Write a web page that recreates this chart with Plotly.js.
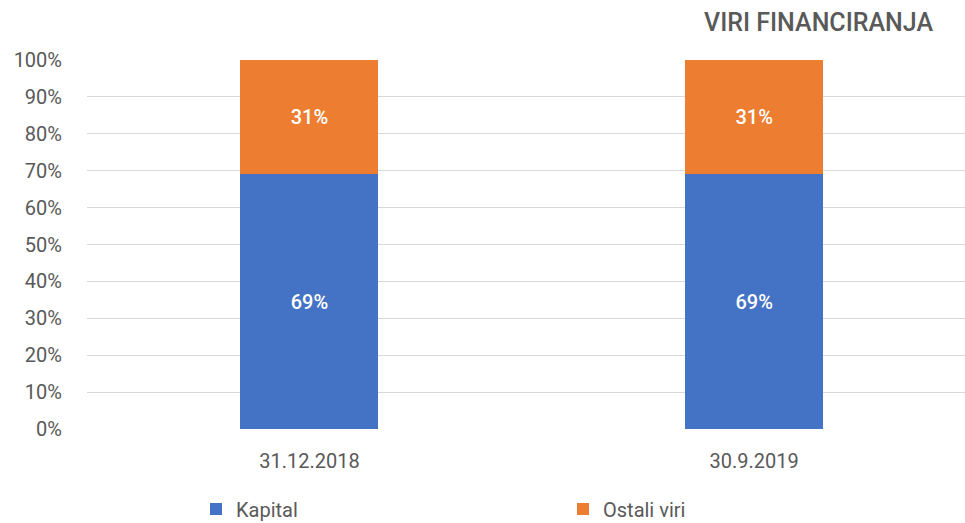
<!DOCTYPE html>
<html>
<head>
<meta charset="utf-8">
<script src="https://cdn.plot.ly/plotly-3.0.1.min.js"></script>
<style>html,body{margin:0;padding:0;background:#fff;}#chart{width:965px;height:523px;}</style>
</head>
<body>
<div id="chart"></div>
<script>
var categories = ["31.12.2018", "30.9.2019"];
var kapital = [69, 69];
var ostaliViri = [31, 31];
var seriesNames = ["Kapital", "Ostali viri"];
var yTickVals = [0, 10, 20, 30, 40, 50, 60, 70, 80, 90, 100];
var chartTitle = "VIRI FINANCIRANJA";

var fontFam = "Roboto, 'Liberation Sans', sans-serif";
var xpos = [0, 1];

var traces = [
  {
    type: "bar", name: seriesNames[0], x: xpos, y: kapital,
    marker: {color: "#4472C4"}, width: 0.31,
    text: kapital.map(function(v){return v + "%";}),
    textposition: "inside", insidetextanchor: "middle",
    textfont: {color: "#ffffff", size: 20, family: fontFam, weight: 500},
    hoverinfo: "none"
  },
  {
    type: "bar", name: seriesNames[1], x: xpos, y: ostaliViri,
    marker: {color: "#ED7D31"}, width: 0.31,
    text: ostaliViri.map(function(v){return v + "%";}),
    textposition: "inside", insidetextanchor: "middle",
    textfont: {color: "#ffffff", size: 20, family: fontFam, weight: 500},
    hoverinfo: "none"
  }
];

var layout = {
  width: 965, height: 523,
  margin: {l: 87, r: 0, t: 60, b: 94, autoexpand: false},
  paper_bgcolor: "#ffffff", plot_bgcolor: "#ffffff",
  barmode: "stack",
  showlegend: true,
  font: {family: fontFam, color: "#595959", size: 20},
  xaxis: {
    tickmode: "array", tickvals: xpos, ticktext: categories,
    range: [-0.5, 1.474],
    showgrid: false, zeroline: false, showline: false,
    ticks: "outside", ticklen: 14, tickcolor: "rgba(0,0,0,0)",
    tickfont: {size: 20, color: "#595959", family: fontFam},
    fixedrange: true
  },
  yaxis: {
    range: [0, 100],
    tickmode: "array", tickvals: yTickVals,
    ticktext: yTickVals.map(function(v){return v + "%";}),
    showgrid: true, gridcolor: "#d9d9d9", gridwidth: 1,
    zeroline: false, showline: false,
    ticks: "outside", ticklen: 20, tickcolor: "rgba(0,0,0,0)",
    tickfont: {size: 20, color: "#595959", family: fontFam},
    fixedrange: true
  },
  legend: {
    orientation: "h",
    x: (196 - 87) / 878, xanchor: "left",
    y: -(509 - 429) / 369, yanchor: "middle",
    traceorder: "normal",
    entrywidth: 322, entrywidthmode: "pixels",
    font: {size: 20, color: "#595959", family: fontFam},
    bgcolor: "rgba(0,0,0,0)"
  },
  annotations: [{
    text: chartTitle,
    xref: "paper", yref: "paper",
    x: (935 - 87) / 878, xanchor: "right",
    y: 1 + (60 - 22) / 369, yanchor: "middle",
    showarrow: false,
    font: {size: 25, color: "#595959", family: fontFam, weight: 500}
  }]
};

Plotly.newPlot("chart", traces, layout, {displayModeBar: false, staticPlot: true});
</script>
</body>
</html>
